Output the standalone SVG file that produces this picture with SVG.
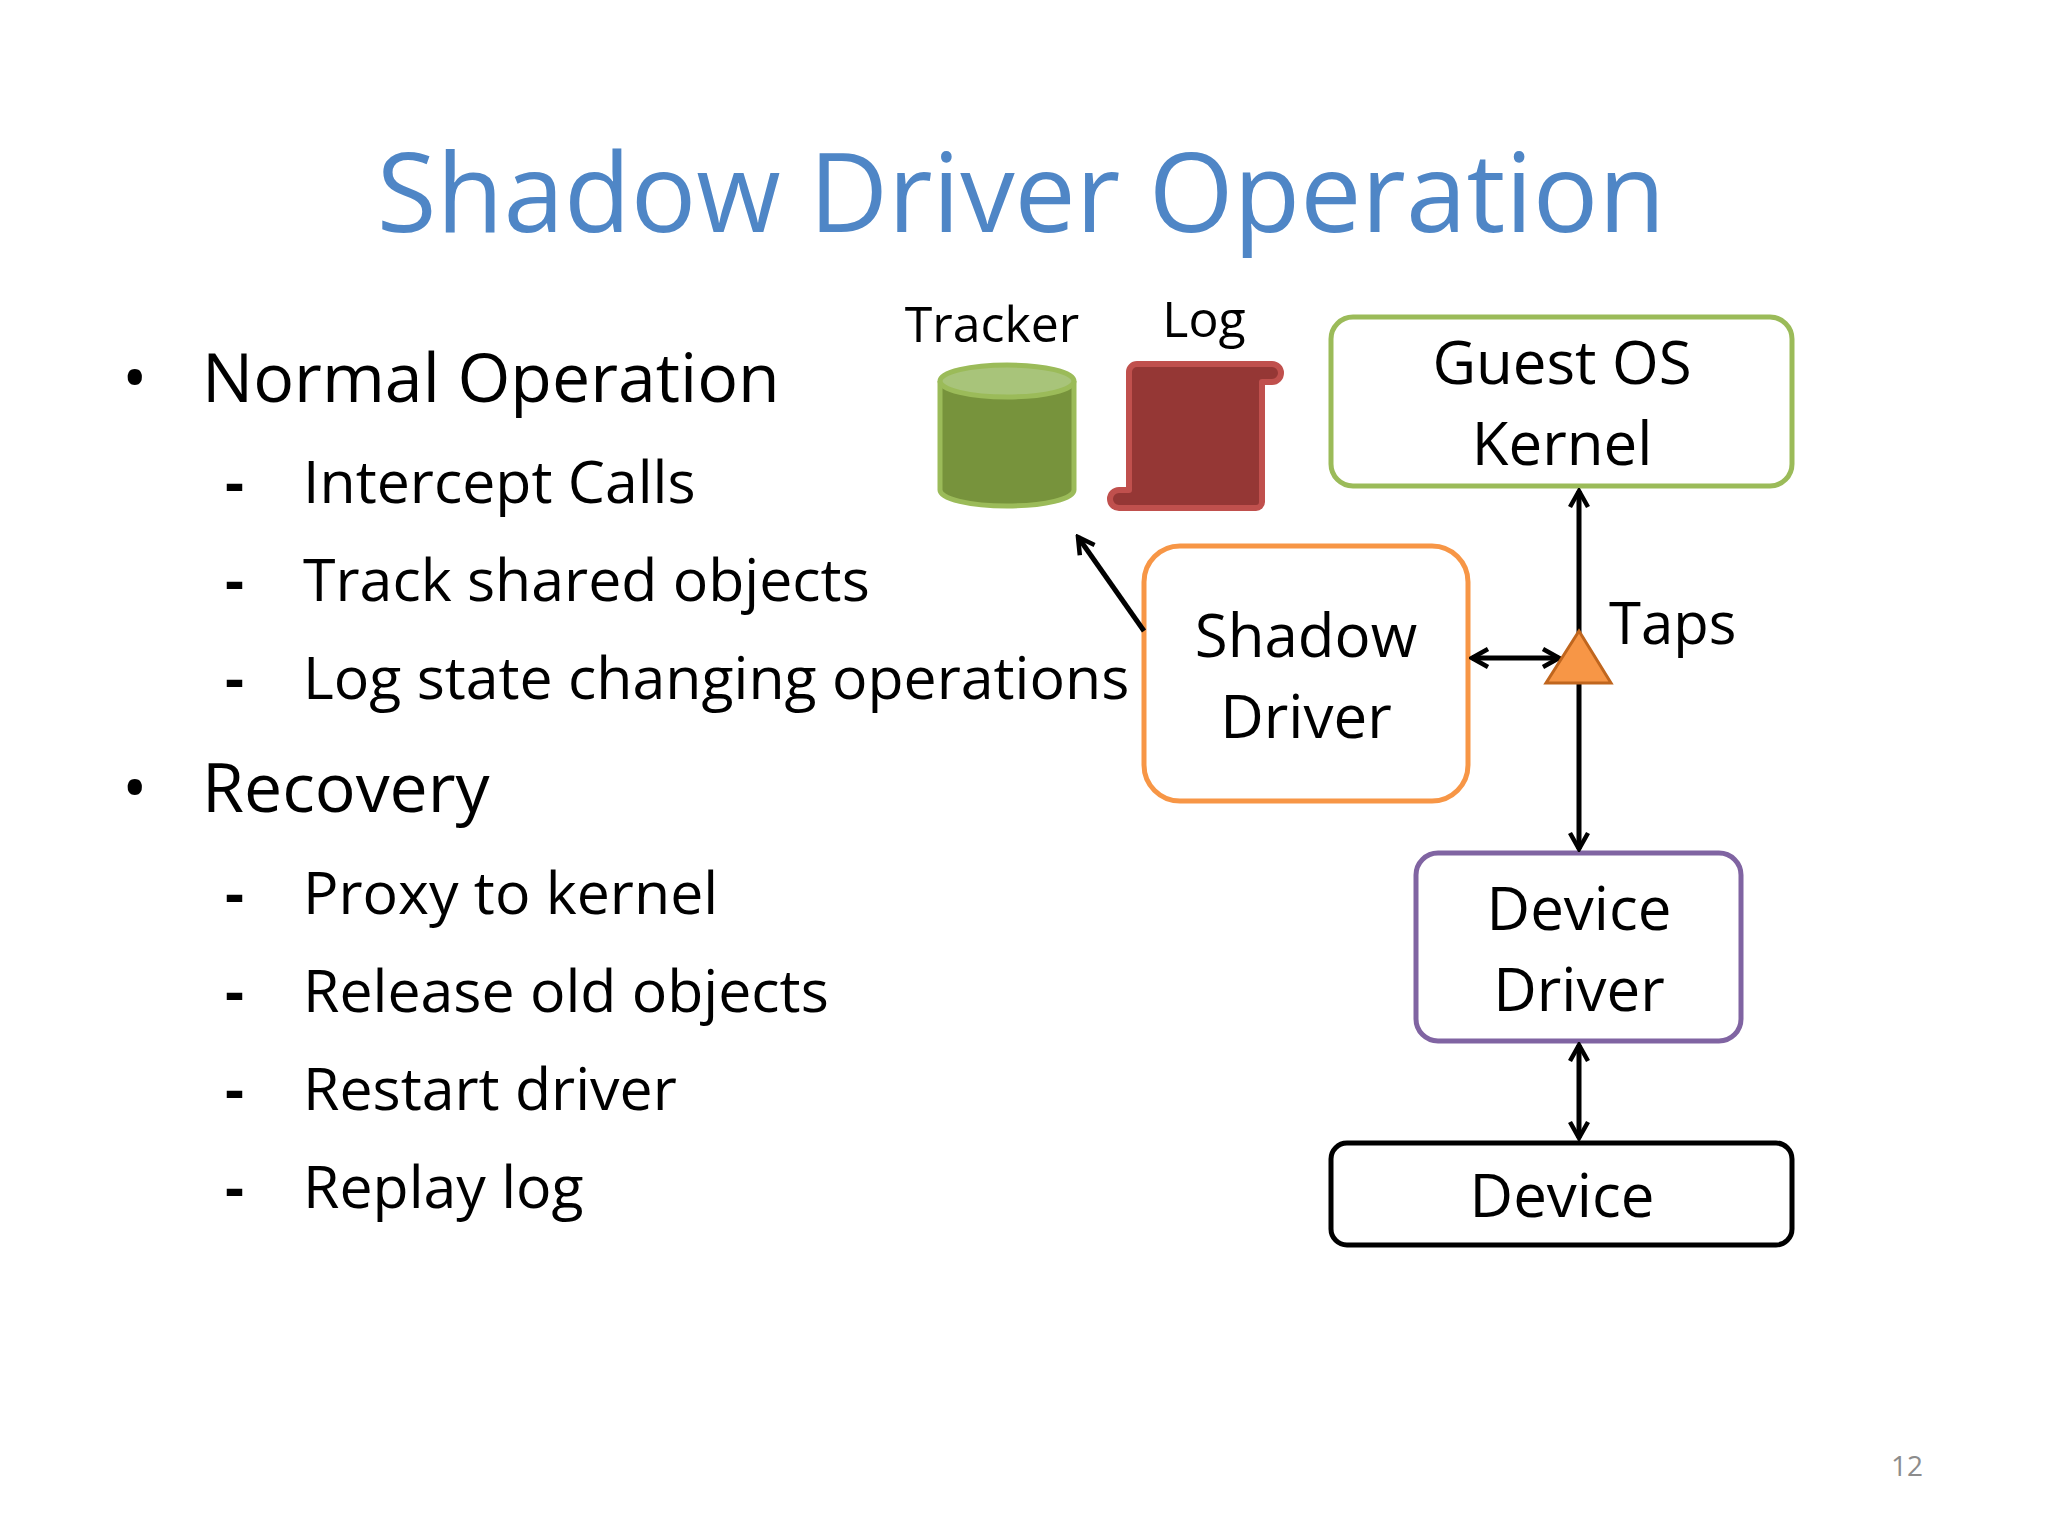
<svg xmlns="http://www.w3.org/2000/svg" width="2048" height="1536" viewBox="0 0 2048 1536">
<defs>
<style>
text{font-family:"Open Sans","Liberation Sans",sans-serif;fill:#000}
.t{font-size:109px;fill:#4F86C6;text-anchor:middle}
.b1{font-size:68px}
.b2{font-size:59px}
.n{font-size:60px;text-anchor:middle}
.sm{font-size:50px;text-anchor:middle}
.box{fill:#fff;stroke-width:5}
.c{stroke:#000;stroke-width:5;fill:none}
</style>
<marker id="a" viewBox="0 0 24 24" refX="21" refY="12" markerWidth="24" markerHeight="24" markerUnits="userSpaceOnUse" orient="auto-start-reverse">
<path d="M5,3 L21,12 L5,21" fill="none" stroke="#000" stroke-width="4.5"/>
</marker>
</defs>
<rect width="2048" height="1536" fill="#fff"/>
<text class="t" x="1021" y="232">Shadow Driver Operation</text>
<g id="bullets">
<text class="b1" x="122" y="402">•</text>
<text class="b1" x="202" y="402">Normal Operation</text>
<text class="b2" x="225" y="503" font-weight="bold">-</text><text class="b2" x="303" y="503">Intercept Calls</text>
<text class="b2" x="225" y="601" font-weight="bold">-</text><text class="b2" x="303" y="601">Track shared objects</text>
<text class="b2" x="225" y="699" font-weight="bold">-</text><text class="b2" x="303" y="699">Log state changing operations</text>
<text class="b1" x="122" y="812">•</text>
<text class="b1" x="202" y="812">Recovery</text>
<text class="b2" x="225" y="914" font-weight="bold">-</text><text class="b2" x="303" y="914">Proxy to kernel</text>
<text class="b2" x="225" y="1012" font-weight="bold">-</text><text class="b2" x="303" y="1012">Release old objects</text>
<text class="b2" x="225" y="1110" font-weight="bold">-</text><text class="b2" x="303" y="1110">Restart driver</text>
<text class="b2" x="225" y="1208" font-weight="bold">-</text><text class="b2" x="303" y="1208">Replay log</text>
</g>
<g id="tracker">
<text class="sm" x="992" y="342">Tracker</text>
<path d="M940,381 L940,490 A67,16 0 0 0 1074,490 L1074,381" fill="#77933C" stroke="#9BBB59" stroke-width="5"/>
<ellipse cx="1007" cy="381" rx="67" ry="16" fill="#A8C47A" stroke="#9BBB59" stroke-width="5"/>
</g>
<g id="log">
<text class="sm" x="1204" y="337">Log</text>
<path d="M1137,364 L1272,364 A9,9 0 0 1 1272,382 L1262,382 L1262,502 A6,6 0 0 1 1256,508 L1119,508 A9,9 0 0 1 1119,490 L1129,490 L1129,372 A8,8 0 0 1 1137,364 Z" fill="#953735" stroke="#C0504D" stroke-width="6" stroke-linejoin="round"/>
</g>
<g id="guest">
<rect class="box" x="1331" y="317" width="461" height="169" rx="22" stroke="#9BBB59"/>
<text class="n" x="1562" y="384">Guest OS</text>
<text class="n" x="1562" y="465">Kernel</text>
</g>
<g id="shadow">
<rect class="box" x="1144" y="546" width="324" height="255" rx="36" stroke="#F79646"/>
<text class="n" x="1306" y="657">Shadow</text>
<text class="n" x="1306" y="738">Driver</text>
</g>
<g id="devdriver">
<rect class="box" x="1416" y="853" width="325" height="188" rx="22" stroke="#8064A2"/>
<text class="n" x="1579" y="930">Device</text>
<text class="n" x="1579" y="1011">Driver</text>
</g>
<g id="device">
<rect class="box" x="1331" y="1143" width="461" height="102" rx="16" stroke="#000"/>
<text class="n" x="1562" y="1217">Device</text>
</g>
<g id="connectors">
<line class="c" x1="1579" y1="491" x2="1579" y2="849" marker-start="url(#a)" marker-end="url(#a)"/>
<line class="c" x1="1472" y1="658" x2="1559" y2="658" marker-start="url(#a)" marker-end="url(#a)"/>
<line class="c" x1="1579" y1="1045" x2="1579" y2="1138" marker-start="url(#a)" marker-end="url(#a)"/>
<line class="c" x1="1144" y1="631" x2="1078" y2="537" marker-end="url(#a)"/>
</g>
<g id="taps">
<polygon points="1579,631 1546,683 1611,683" fill="#F79646" stroke="#C0661E" stroke-width="3"/>
<text x="1609" y="644" style="font-size:58px">Taps</text>
</g>
<text x="1907" y="1476" style="font-size:28px;fill:#8C8C8C;text-anchor:middle">12</text>
</svg>
